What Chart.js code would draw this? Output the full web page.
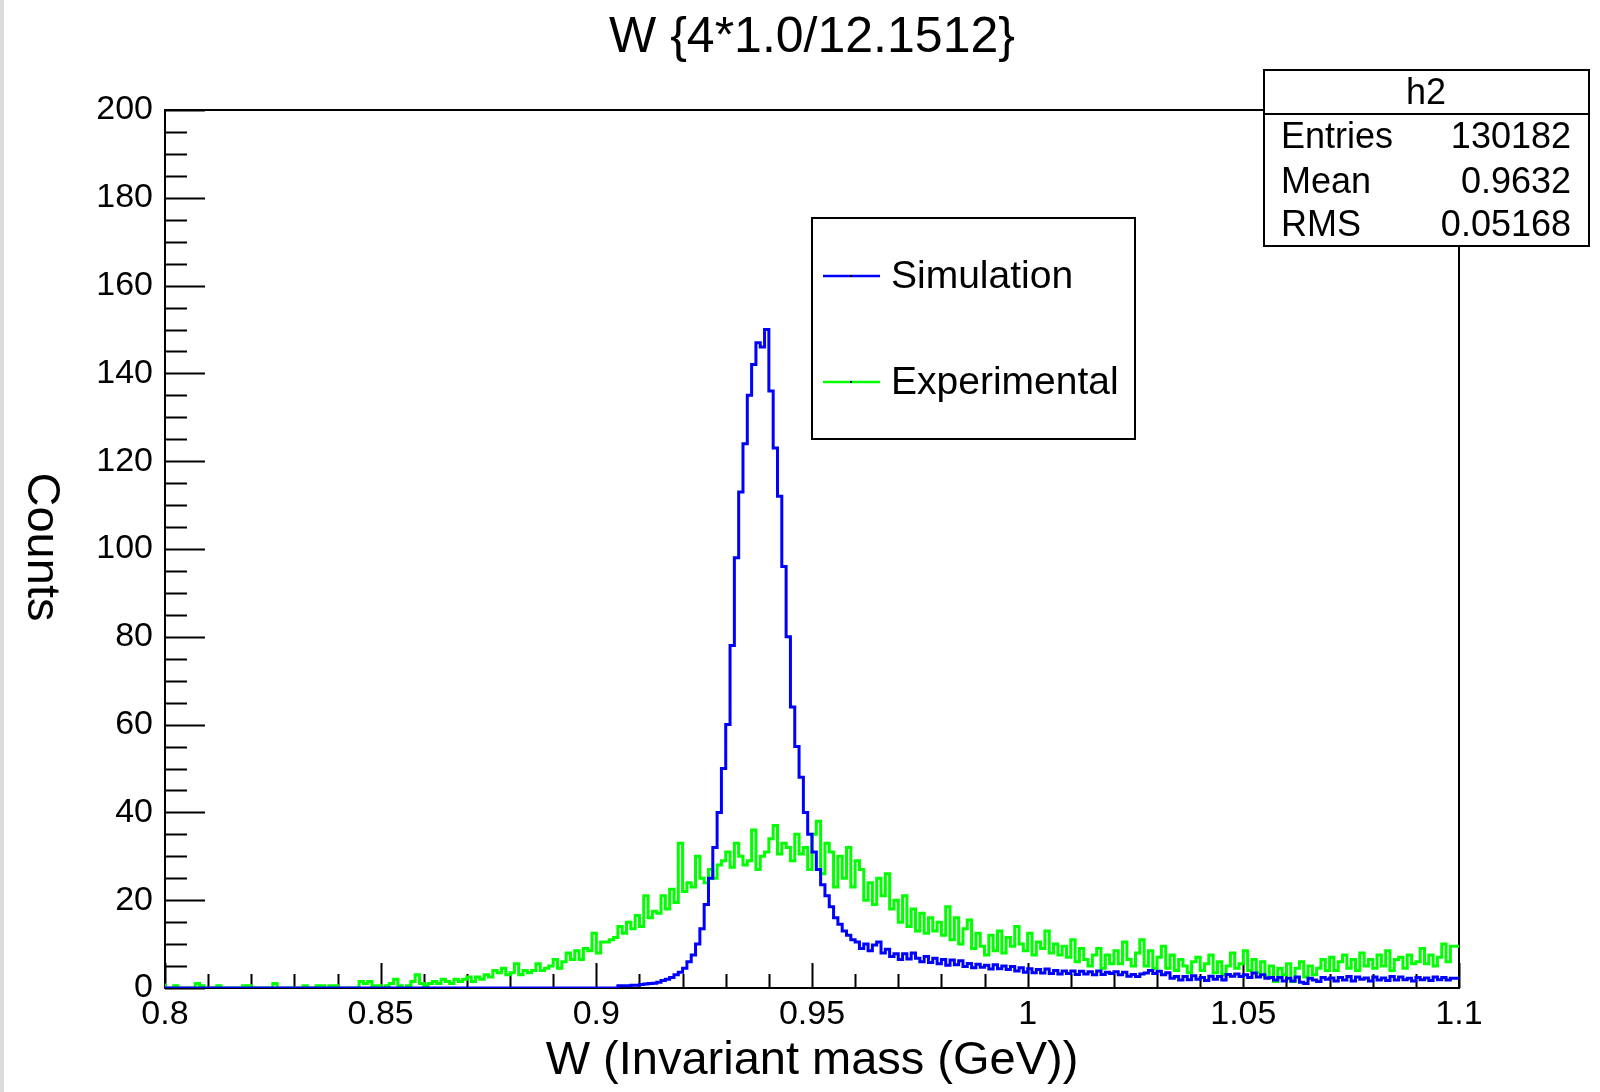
<!DOCTYPE html>
<html>
<head>
<meta charset="utf-8">
<title>W (Invariant mass)</title>
<script src="https://cdn.jsdelivr.net/npm/chart.js@4.4.1/dist/chart.umd.min.js"></script>
<style>
  html, body { margin: 0; padding: 0; background: #fff; }
  #wrap { position: relative; width: 1600px; height: 1092px; }
  canvas { display: block; }
</style>
</head>
<body>
<div id="wrap"><canvas id="w-chart" width="1600" height="1092"></canvas></div>
<script>
// Histogram binning: 0.8 - 1.1 GeV, 300 bins of 0.001
const binLow = 0.8;
const binWidth = 0.001;

// Simulation (blue), counts per bin
const simulationCounts = [
  0, 0, 0, 0, 0, 0, 0, 0, 0, 0,
  0, 0, 0, 0, 0, 0, 0, 0, 0, 0,
  0, 0, 0, 0, 0, 0, 0, 0, 0, 0,
  0, 0, 0, 0, 0, 0, 0, 0, 0, 0,
  0, 0, 0, 0, 0, 0, 0, 0, 0, 0,
  0, 0, 0, 0, 0, 0, 0, 0, 0, 0,
  0, 0, 0, 0, 0, 0, 0, 0, 0, 0,
  0, 0, 0, 0, 0, 0, 0, 0, 0, 0,
  0, 0, 0, 0, 0, 0, 0, 0, 0, 0,
  0, 0, 0, 0, 0, 0, 0, 0, 0, 0,
  0, 0, 0, 0, 0, 0, 0.5, 0.5, 0.5, 0.6,
  0.6, 0.8, 0.9, 1, 1.1, 1.3, 1.7, 2, 2.4, 3,
  3.6, 4.5, 6, 7.5, 10, 13.5, 19, 25, 32, 40,
  50, 60, 78, 98, 113, 124, 135, 142, 147, 146,
  150, 136, 123, 112, 96, 80, 64, 55, 48, 40,
  35, 31, 27, 23.5, 21, 18.5, 16, 14.5, 13, 12,
  11, 10.5, 9, 10, 8.5, 9.8, 10.5, 8, 8.8, 7.2,
  7.8, 6.5, 7.8, 6.6, 8, 6.8, 6, 7.2, 5.8, 6.8,
  5.5, 6.5, 5.2, 6.4, 5.3, 6.2, 4.9, 5.6, 4.6, 5.4,
  4.7, 5.2, 4.3, 5.3, 4.4, 5, 4.2, 4.9, 3.9, 4.6,
  3.6, 4.4, 3.5, 4.2, 3.4, 4.3, 3.3, 4, 3.2, 3.9,
  3.3, 3.9, 3.1, 3.8, 3.2, 3.7, 3, 3.9, 3.1, 3.6,
  3.3, 3.7, 3, 3.6, 2.7, 3.1, 2.6, 3.2, 3.4, 4,
  3.3, 3.8, 3, 3.5, 2.2, 2.6, 1.8, 2.6, 1.9, 2.8,
  2, 2.4, 1.7, 2.7, 2, 2.6, 1.8, 3.1, 2.7, 3.2,
  2.6, 3, 2.4, 3.4, 2.5, 3, 2.2, 2.4, 1.8, 2.4,
  1.6, 2.2, 1.6, 2.5, 1.3, 1.0, 2.2, 1.8, 1.5, 2.4,
  2, 2.3, 1.6, 2.4, 1.8, 2.6, 1.6, 2.5, 2, 2.3,
  1.6, 2.5, 1.8, 2.3, 1.7, 2.6, 1.8, 2.5, 1.9, 2.2,
  1.6, 2.4, 1.9, 2.3, 1.7, 2.5, 1.9, 2.4, 1.8, 2.2
];

// Experimental (green), counts per bin
const experimentalCounts = [
  1, 0, 0, 0.5, 0, 0, 0, 0, 1, 0.5,
  0, 0, 0, 0.5, 0, 0, 0, 0, 0, 0.5,
  0.5, 0, 0, 0, 0, 0, 1, 0, 0, 0,
  0, 0, 0, 0.5, 0, 0, 0.5, 0.5, 0, 0.5,
  0.5, 0, 0, 0, 0, 0, 1.5, 1, 1.5, 0.5,
  0.5, 0, 0.5, 1, 2, 0.5, 0, 0.5, 1.5, 3,
  1, 0.5, 1, 1.5, 1, 2, 1.5, 1, 2, 1.5,
  2, 2.5, 1.5, 2.5, 2, 3, 2.5, 4, 3.5, 4.5,
  3, 3.5, 5.5, 3, 4, 3.5, 4, 5.5, 4, 4.5,
  5, 6.5, 4.5, 6, 8, 6.5, 8.5, 6.5, 9, 8.5,
  12.5, 8, 10.5, 10.5, 11, 11.5, 14, 12.5, 15, 13.5,
  16.5, 14, 21, 16, 17.5, 17, 21, 18, 22.5, 19.5,
  33, 22, 24, 23, 30, 25, 24, 27, 25, 28,
  29, 31, 27.5, 33, 30, 28, 29, 36, 27, 30,
  31, 34, 37, 30.5, 33, 32, 29, 35, 30.5, 32,
  27, 35, 38, 26, 33, 31, 23, 30, 25, 32,
  23, 29, 27, 20, 24, 19, 25, 21, 26, 18,
  20, 15, 21, 14, 18, 13, 17, 12.5, 16, 13,
  15, 12, 18.5, 11, 16, 10, 13.5, 15.5, 9, 12.5,
  9.5, 7.5, 12, 8.5, 13, 8, 11.5, 9.5, 14, 10,
  8.5, 12.5, 7.5, 10.5, 9, 13, 8, 10, 7.5, 9.5,
  7, 11, 6, 9, 6.5, 5, 7.5, 9, 4.5, 7.5,
  5.5, 8.5, 5.5, 10.5, 6.5, 5, 8, 11, 5, 8.5,
  4.5, 7, 9.5, 4.5, 7.5, 4, 6.5, 5, 3.5, 6,
  7, 4, 5.5, 7.5, 3.5, 6, 3, 5, 8, 4.5,
  5.5, 8.5, 4, 6.5, 3.5, 6, 2.5, 5, 1.5, 4.5,
  3, 5.5, 1.5, 4.5, 6, 2.5, 5, 3, 4.5, 6.5,
  4, 7, 4, 6, 7.5, 4.5, 6.5, 4, 8, 5,
  6.5, 4.5, 7.5, 5, 8.5, 4, 6.5, 7, 4.5, 7.5,
  5.5, 6, 9, 5.5, 7.5, 5, 7, 10, 6, 9.5
];

const seriesNames = ['Simulation', 'Experimental'];
const seriesColors = ['#0000ff', '#00ff00'];

const xTicks = [0.8, 0.85, 0.9, 0.95, 1, 1.05, 1.1];
const xTickLabels = ['0.8', '0.85', '0.9', '0.95', '1', '1.05', '1.1'];
const yTicks = [0, 20, 40, 60, 80, 100, 120, 140, 160, 180, 200];

const statsTitle = 'h2';
const statsLabels = ['Entries', 'Mean', 'RMS'];
const statsValues = ['130182', '0.9632', '0.05168'];

const FONT = '"Liberation Sans", Arial, Helvetica, sans-serif';

// Turn bin counts into step points at the bin edges
function toSteps(counts) {
  const pts = counts.map((c, i) => ({ x: binLow + i * binWidth, y: c }));
  pts.push({ x: binLow + counts.length * binWidth, y: counts[counts.length - 1] });
  return pts;
}

// ROOT style frame, inner ticks, legend and stats box
const rootDecor = {
  id: 'rootDecor',
  beforeDatasetsDraw(chart) {
    const ctx = chart.ctx;
    const area = chart.chartArea;
    const xs = chart.scales.x;
    const ys = chart.scales.y;

    ctx.save();
    // light strip on the left edge
    ctx.fillStyle = '#dcdcdc';
    ctx.fillRect(0, 0, 4, chart.height);

    ctx.strokeStyle = '#000';
    ctx.lineWidth = 2;
    ctx.strokeRect(area.left, area.top, area.right - area.left, area.bottom - area.top);

    ctx.beginPath();
    // y ticks every 5, major every 20
    for (let k = 0; k <= 40; k++) {
      const py = Math.round(ys.getPixelForValue(k * 5)) + 0.5;
      const len = k % 4 === 0 ? 40 : 22;
      ctx.moveTo(area.left, py);
      ctx.lineTo(area.left + len, py);
    }
    // x ticks every 0.01, major every 0.05
    for (let k = 0; k <= 30; k++) {
      const px = Math.round(xs.getPixelForValue(binLow + k * 0.01)) + 0.5;
      const len = k % 5 === 0 ? 25 : 14;
      ctx.moveTo(px, area.bottom);
      ctx.lineTo(px, area.bottom - len);
    }
    ctx.stroke();
    ctx.restore();
  },
  afterDatasetsDraw(chart) {
    const ctx = chart.ctx;
    ctx.save();
    ctx.fillStyle = '#000';

    // y axis title, reads top to bottom
    ctx.save();
    ctx.translate(41, 547);
    ctx.rotate(Math.PI / 2);
    ctx.font = '47px ' + FONT;
    ctx.textAlign = 'center';
    ctx.textBaseline = 'middle';
    ctx.fillText('Counts', 0, 0);
    ctx.restore();

    // legend box
    ctx.fillStyle = '#fff';
    ctx.fillRect(812, 218, 323, 221);
    ctx.strokeStyle = '#000';
    ctx.lineWidth = 2;
    ctx.strokeRect(812, 218, 323, 221);
    const rowY = [276, 382];
    ctx.font = '39px ' + FONT;
    ctx.textAlign = 'left';
    ctx.textBaseline = 'middle';
    seriesNames.forEach((name, i) => {
      ctx.strokeStyle = seriesColors[i];
      ctx.lineWidth = 2.5;
      ctx.beginPath();
      ctx.moveTo(823, rowY[i]);
      ctx.lineTo(880, rowY[i]);
      ctx.stroke();
      ctx.fillStyle = '#000';
      ctx.fillRect(850, rowY[i] - 1, 2, 2);
      ctx.fillText(name, 891, rowY[i] + 1);
    });

    // stats box
    ctx.fillStyle = '#fff';
    ctx.fillRect(1264, 70, 325, 176);
    ctx.strokeStyle = '#000';
    ctx.lineWidth = 2;
    ctx.strokeRect(1264, 70, 325, 176);
    ctx.beginPath();
    ctx.moveTo(1264, 114);
    ctx.lineTo(1589, 114);
    ctx.stroke();
    ctx.fillStyle = '#000';
    ctx.font = '36px ' + FONT;
    ctx.textAlign = 'center';
    ctx.fillText(statsTitle, 1426, 94);
    const statY = [138, 183, 226];
    statsLabels.forEach((lab, i) => {
      ctx.textAlign = 'left';
      ctx.fillText(lab, 1281, statY[i]);
      ctx.textAlign = 'right';
      ctx.fillText(statsValues[i], 1571, statY[i]);
    });
    ctx.restore();
  }
};

const chart = new Chart(document.getElementById('w-chart'), {
  type: 'line',
  data: {
    datasets: [
      {
        label: seriesNames[0],
        data: toSteps(simulationCounts),
        borderColor: seriesColors[0],
        borderWidth: 3,
        stepped: 'after',
        pointRadius: 0,
        fill: false
      },
      {
        label: seriesNames[1],
        data: toSteps(experimentalCounts),
        borderColor: seriesColors[1],
        borderWidth: 3,
        stepped: 'after',
        pointRadius: 0,
        fill: false
      }
    ]
  },
  options: {
    responsive: false,
    animation: false,
    devicePixelRatio: 1,
    layout: { padding: { left: 0, right: 141, top: 0, bottom: 0 } },
    plugins: {
      legend: { display: false },
      tooltip: { enabled: false },
      title: {
        display: true,
        fullSize: false,
        text: 'W {4*1.0/12.1512}',
        color: '#000',
        font: { family: FONT, size: 50, weight: 'normal', lineHeight: 1.2 },
        padding: { top: 8, bottom: 42 }
      }
    },
    scales: {
      x: {
        type: 'linear',
        min: 0.8,
        max: 1.1,
        grid: { display: false, drawTicks: false },
        border: { display: false },
        afterBuildTicks: s => { s.ticks = xTicks.map(v => ({ value: v })); },
        afterFit: s => { s.height = 104; },
        ticks: {
          autoSkip: false,
          maxRotation: 0,
          padding: 6,
          color: '#000',
          font: { family: FONT, size: 34 },
          callback: (v, i) => xTickLabels[i]
        },
        title: {
          display: true,
          text: 'W (Invariant mass (GeV))',
          color: '#000',
          font: { family: FONT, size: 47, lineHeight: 1.2 },
          padding: { top: 0, bottom: 3 }
        }
      },
      y: {
        min: 0,
        max: 200,
        grid: { display: false, drawTicks: false },
        border: { display: false },
        afterBuildTicks: s => { s.ticks = yTicks.map(v => ({ value: v })); },
        afterFit: s => { s.width = 165; },
        ticks: {
          padding: 12,
          color: '#000',
          font: { family: FONT, size: 34 },
          callback: v => String(v)
        }
      }
    }
  },
  plugins: [rootDecor]
});
</script>
</body>
</html>
